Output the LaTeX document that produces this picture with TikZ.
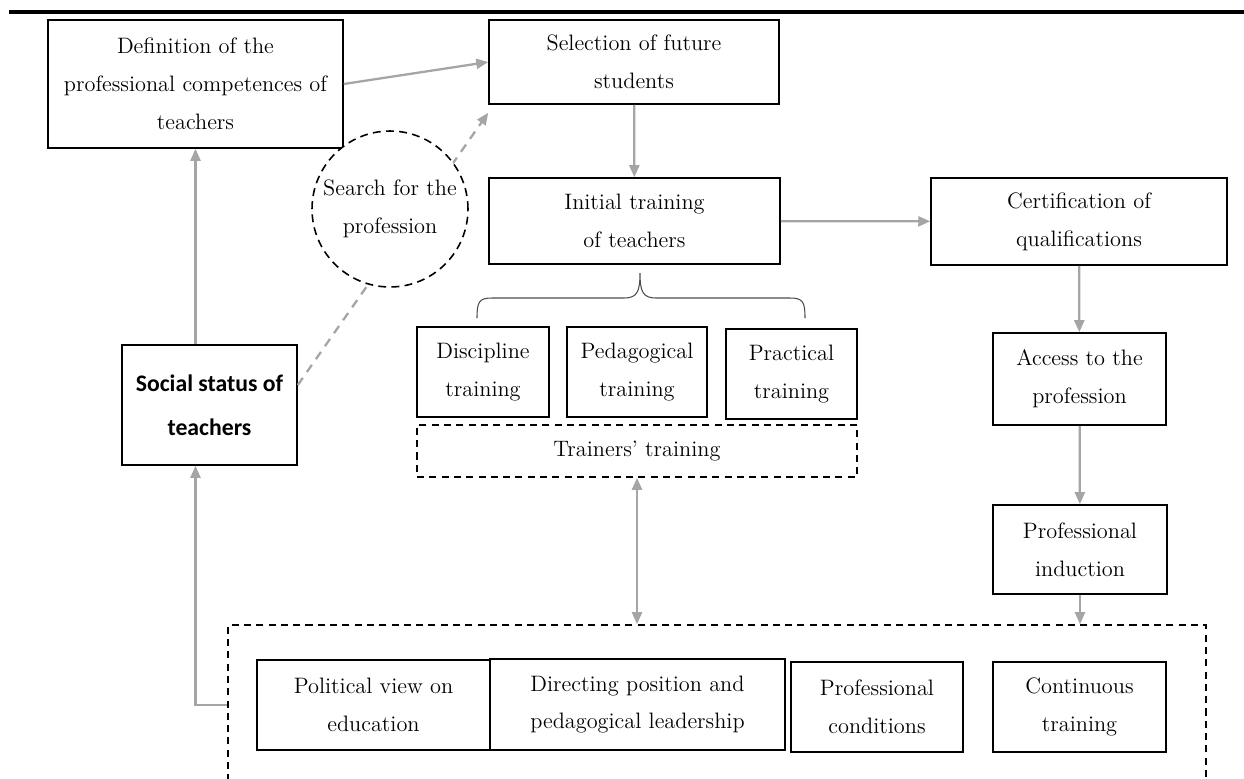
\documentclass[tikz,border=0pt]{standalone}
\usepackage{fontspec}
\newfontfamily\statusfont{Carlito}
\usetikzlibrary{arrows.meta}
\definecolor{arrowgray}{RGB}{165,165,165}

\begin{document}
\begin{tikzpicture}[x=0.02cm,y=-0.02cm,
	font=\fontsize{12.7}{21.5}\selectfont,
	box/.style={draw,line width=0.9pt,align=center,inner sep=0pt},
	dbox/.style={box,dash pattern=on 4pt off 3pt},
	arr/.style={draw=arrowgray,line width=1.3pt,-{Triangle[length=2.4mm,width=2mm]}},
	darr/.style={arr,{Triangle[length=2.4mm,width=2mm]}-{Triangle[length=2.4mm,width=2mm]}}]
	\clip (0,0) rectangle (1244,778);
	\draw[line width=2pt] (9,12) -- (1244,12);

	\node[box,minimum width=5.9cm,minimum height=2.56cm] (1) at (195.5,84) {Definition of the\\professional competences of\\teachers};
	\node[box,minimum width=5.8cm,minimum height=1.68cm] (2) at (634,62) {Selection of future\\students};
	\node[box,minimum width=5.82cm,minimum height=1.72cm] (3) at (634.5,221) {Initial training\\of teachers};
	\node[box,minimum width=5.92cm,minimum height=1.74cm] (4) at (1079,221.5) {Certification of\\qualifications};
	\node[box,minimum width=3.5cm,minimum height=2.4cm,font=\statusfont\bfseries\fontsize{13.5}{25}\selectfont] (5) at (209.5,405) {Social status of\\teachers};
	\node[box,minimum width=2.64cm,minimum height=1.8cm] (6) at (483,372) {Discipline\\training};
	\node[box,minimum width=2.8cm,minimum height=1.8cm] (7) at (637,372) {Pedagogical\\training};
	\node[box,minimum width=2.62cm,minimum height=1.8cm] (8) at (791.5,374) {Practical\\training};
	\node[dbox,minimum width=8.8cm,minimum height=1.04cm] (9) at (637,451) {Trainers' training};
	\node[box,minimum width=3.46cm,minimum height=1.84cm] (10) at (1079.5,379) {Access to the\\profession};
	\node[box,minimum width=3.48cm,minimum height=1.78cm] (11) at (1080,549.5) {Professional\\induction};
	\node[dbox,minimum width=19.56cm,minimum height=3.9cm] (12) at (717,722.5) {};
	\node[box,minimum width=4.66cm,minimum height=1.8cm] (13) at (373.5,705) {Political view on\\education};
	\node[box,minimum width=5.9cm,minimum height=1.82cm] (14) at (637.5,704.5) {Directing position and\\pedagogical leadership};
	\node[box,minimum width=3.44cm,minimum height=1.8cm] (15) at (877,707) {Professional\\conditions};
	\node[box,minimum width=3.46cm,minimum height=1.8cm] (16) at (1079.5,707) {Continuous\\training};

	% dashed link runs behind the circle
	\draw[arr,dash pattern=on 5pt off 4pt] ([yshift=0.4cm]5.east) -- ([yshift=-0.16cm]2.south west);
	\node[circle,draw,fill=white,line width=0.9pt,dash pattern=on 4.5pt off 3pt,minimum size=3.12cm,align=center,inner sep=0pt] (17) at (390,209) {Search for the\\profession};

	\draw[line width=0.6pt,black!70] (477,318) .. controls (477,302) and (479,298) .. (492,298) -- (624,298) .. controls (637,298) and (640,292) .. (640,273) .. controls (640,292) and (643,298) .. (656,298) -- (790,298) .. controls (803,298) and (805,302) .. (805,318);

	\draw[arr] (1.east) -- (2.west);
	\draw[arr] (2) -- (3);
	\draw[arr] (3) -- (4);
	\draw[arr] (4) -- (10);
	\draw[arr] (10) -- (11);
	\draw[arr] (11) -- (11 |- 12.north);
	\draw[darr] (9) -- (9 |- 12.north);
	\draw[arr] (5.north -| 1) -- (1);
	\draw[arr] (12.west |- 13) -| (5.south -| 1);
\end{tikzpicture}
\end{document}
